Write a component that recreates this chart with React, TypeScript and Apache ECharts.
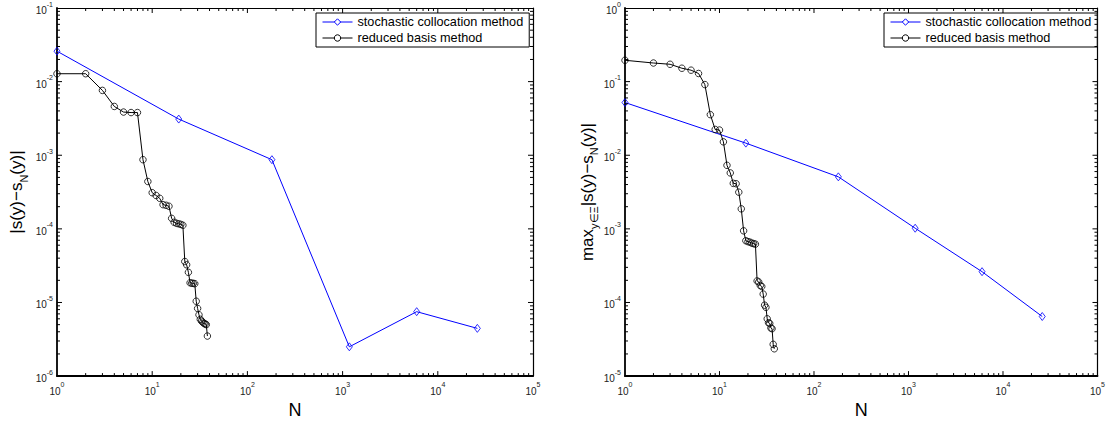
import React, { useEffect, useRef } from "react";
import * as echarts from "echarts";

// ---- data ----
const scN = [1, 19, 181, 1177, 6001, 26017];
const scErrPoint = [0.0259, 3.1e-3, 8.7e-4, 2.5e-6, 7.5e-6, 4.45e-6];
const scErrMax = [0.052, 0.0146, 5.09e-3, 1.02e-3, 2.62e-4, 6.45e-5];

const rbN = [
  1, 2, 3, 4, 5, 6, 7, 8, 9, 10, 11, 12, 13, 14, 15, 16, 17, 18, 19,
  20, 21, 22, 23, 24, 25, 26, 27, 28, 29, 30, 31, 32, 33, 34, 35, 36, 37, 38,
];
const rbErrPoint = [
  0.0128, 0.0128, 7.6e-3, 4.6e-3, 3.86e-3, 3.8e-3, 3.8e-3, 8.7e-4, 4.4e-4,
  3.1e-4, 2.84e-4, 2.6e-4, 2.13e-4, 2.09e-4, 2.03e-4, 1.39e-4, 1.23e-4,
  1.19e-4, 1.17e-4, 1.15e-4, 1.12e-4, 3.6e-5, 3.25e-5, 2.57e-5, 1.85e-5,
  1.83e-5, 1.82e-5, 1.8e-5, 1.04e-5, 8.3e-6, 6.8e-6, 5.9e-6, 5.6e-6, 5.4e-6,
  5.2e-6, 5.1e-6, 5.0e-6, 3.5e-6,
];
const rbErrMax = [
  0.195, 0.179, 0.172, 0.152, 0.143, 0.129, 0.0912, 0.0356, 0.0224, 0.022,
  0.0152, 7.3e-3, 5.75e-3, 4.15e-3, 4.1e-3, 3.15e-3, 1.87e-3, 9.4e-4, 6.9e-4,
  6.7e-4, 6.6e-4, 6.4e-4, 6.3e-4, 6.2e-4, 1.96e-4, 1.9e-4, 1.7e-4, 1.65e-4,
  1.3e-4, 9.2e-5, 8.6e-5, 6.0e-5, 5.3e-5, 5.2e-5, 4.5e-5, 4.4e-5, 2.7e-5,
  2.35e-5,
];

const seriesNames = ["stochastic collocation method", "reduced basis method"];
const xRange = [1, 1e5];
const yRangeLeft = [1e-6, 1e-1];
const yRangeRight = [1e-5, 1];

const FONT = "'Liberation Sans', Arial, Helvetica, sans-serif";

function zip(xs: number[], ys: number[]) {
  return xs.map((x, i) => [x, ys[i]]);
}

function tickValues(min: number, max: number) {
  const e0 = Math.round(Math.log10(min));
  const e1 = Math.round(Math.log10(max));
  const major: number[] = [];
  const minor: number[] = [];
  for (let e = e0; e <= e1; e++) {
    major.push(Math.pow(10, e));
    if (e < e1) for (let m = 2; m <= 9; m++) minor.push(m * Math.pow(10, e));
  }
  return { major, minor };
}

const labelRich = {
  b: { fontSize: 10, fontFamily: FONT, color: "#222", lineHeight: 15, verticalAlign: "bottom" },
  s: { fontSize: 7, fontFamily: FONT, color: "#222", lineHeight: 15, verticalAlign: "top" },
};
const expFormatter = (v: number) => {
  const e = Math.round(Math.log10(v));
  return `{b|10}{s|${e}}`;
};

function makeTickSeries(xi: number, yi: number, yr: number[]) {
  const xt = tickValues(xRange[0], xRange[1]);
  const yt = tickValues(yr[0], yr[1]);
  return {
    type: "custom",
    xAxisIndex: xi,
    yAxisIndex: yi,
    silent: true,
    clip: false,
    z: 5,
    data: [[xRange[0], yr[0]]],
    renderItem: (params: any, api: any) => {
      const cs = params.coordSys;
      const top = cs.y;
      const bottom = cs.y + cs.height;
      const left = cs.x;
      const right = cs.x + cs.width;
      const children: any[] = [];
      const ln = (x1: number, y1: number, x2: number, y2: number) =>
        children.push({
          type: "line",
          shape: { x1, y1, x2, y2 },
          style: { stroke: "#000", lineWidth: 1 },
        });
      const addX = (vals: number[], len: number) => {
        vals.forEach((v) => {
          const px = api.coord([v, yr[0]])[0];
          if (px <= left + 0.5 || px >= right - 0.5) return;
          ln(px, bottom, px, bottom - len);
          ln(px, top, px, top + len);
        });
      };
      const addY = (vals: number[], len: number) => {
        vals.forEach((v) => {
          const py = api.coord([xRange[0], v])[1];
          if (py <= top + 0.5 || py >= bottom - 0.5) return;
          ln(left, py, left + len, py);
          ln(right, py, right - len, py);
        });
      };
      addX(xt.major, 5);
      addX(xt.minor, 3);
      addY(yt.major, 5);
      addY(yt.minor, 3);
      return { type: "group", children };
    },
  };
}

export default function App() {
  const ref = useRef<HTMLDivElement>(null);
  useEffect(() => {
    if (!ref.current) return;
    const chart = echarts.init(ref.current, undefined, { renderer: "svg" });

    const grids = [
      { left: 57, top: 8, width: 476, height: 375 },
      { left: 625, top: 8, width: 476, height: 375 },
    ];

    const xAxisBase = (gridIndex: number, position: string, main: boolean) => ({
      type: "log",
      logBase: 10,
      gridIndex,
      position,
      min: xRange[0],
      max: xRange[1],
      splitNumber: 5,
      axisLine: { show: true, onZero: false, lineStyle: { color: "#000", width: main ? 1.8 : 1.2 } },
      axisTick: { show: false },
      splitLine: { show: false },
      minorTick: { show: false },
      axisLabel: main
        ? { show: true, formatter: expFormatter, rich: labelRich, margin: 5 }
        : { show: false },
      name: main ? "N" : "",
      nameLocation: "middle",
      nameGap: 17,
      nameTextStyle: { fontSize: 18, fontFamily: FONT, color: "#000" },
    });

    const yAxisBase = (
      gridIndex: number,
      position: string,
      main: boolean,
      yr: number[],
      name: string,
      nameGap: number
    ) => ({
      type: "log",
      logBase: 10,
      gridIndex,
      position,
      min: yr[0],
      max: yr[1],
      splitNumber: 5,
      axisLine: { show: true, onZero: false, lineStyle: { color: "#000", width: main ? 1.8 : 1.2 } },
      axisTick: { show: false },
      splitLine: { show: false },
      minorTick: { show: false },
      axisLabel: main
        ? { show: true, formatter: expFormatter, rich: labelRich, margin: 4 }
        : { show: false },
      name: main ? name : "",
      nameLocation: "middle",
      nameGap,
      nameTextStyle: {
        fontSize: 16,
        fontFamily: FONT,
        color: "#000",
        rich: {
          t: { fontSize: 17, fontFamily: FONT, color: "#000", lineHeight: 21, verticalAlign: "top" },
          sub: { fontSize: 11, fontFamily: FONT, color: "#000", lineHeight: 21, verticalAlign: "bottom" },
        },
      },
    });

    const leftName = "{t||s(y)−s}{sub|N}{t|(y)|}";
    const rightName = "{t|max}{sub|y∈Ξ}{t||s(y)−s}{sub|N}{t|(y)|}";

    const lineSeries = (
      name: string,
      xi: number,
      yi: number,
      data: number[][],
      color: string,
      symbol: string,
      symbolSize: any
    ) => ({
      type: "line",
      name,
      xAxisIndex: xi,
      yAxisIndex: yi,
      data,
      symbol,
      symbolSize,
      showSymbol: true,
      lineStyle: { color, width: 1 },
      itemStyle: { color: "rgba(255,255,255,0)", borderColor: color, borderWidth: 0.8 },
      z: 3,
    });

    const legendBase = (left: number) => ({
      left,
      top: 13,
      orient: "vertical",
      backgroundColor: "#fff",
      borderColor: "#000",
      borderWidth: 1,
      borderRadius: 0,
      padding: [2, 6, 2, 6],
      itemWidth: 30,
      itemHeight: 8,
      itemGap: 2,
      itemStyle: { color: "#fff", borderWidth: 1 },
      lineStyle: { width: 1 },
      data: seriesNames,
      selectedMode: false,
      textStyle: { fontSize: 12.7, lineHeight: 14, fontFamily: FONT, color: "#000" },
    });

    chart.setOption({
      animation: false,
      backgroundColor: "#fff",
      textStyle: { fontFamily: FONT },
      grid: grids,
      xAxis: [
        xAxisBase(0, "bottom", true),
        xAxisBase(0, "top", false),
        xAxisBase(1, "bottom", true),
        xAxisBase(1, "top", false),
      ],
      yAxis: [
        yAxisBase(0, "left", true, yRangeLeft, leftName, 28),
        yAxisBase(0, "right", false, yRangeLeft, "", 0),
        yAxisBase(1, "left", true, yRangeRight, rightName, 25),
        yAxisBase(1, "right", false, yRangeRight, "", 0),
      ],
      legend: [legendBase(316), legendBase(884)],
      series: [
        lineSeries(seriesNames[0], 0, 0, zip(scN, scErrPoint), "#0000ff", "diamond", [6, 8]),
        lineSeries(seriesNames[1], 0, 0, zip(rbN, rbErrPoint), "#000000", "circle", 6.5),
        lineSeries(seriesNames[0], 2, 2, zip(scN, scErrMax), "#0000ff", "diamond", [6, 8]),
        lineSeries(seriesNames[1], 2, 2, zip(rbN, rbErrMax), "#000000", "circle", 6.5),
        makeTickSeries(0, 0, yRangeLeft),
        makeTickSeries(2, 2, yRangeRight),
      ],
    });

    return () => chart.dispose();
  }, []);

  return (
    <div
      ref={ref}
      style={{ position: "fixed", left: 0, top: 0, width: 1108, height: 424, background: "#fff" }}
    />
  );
}
